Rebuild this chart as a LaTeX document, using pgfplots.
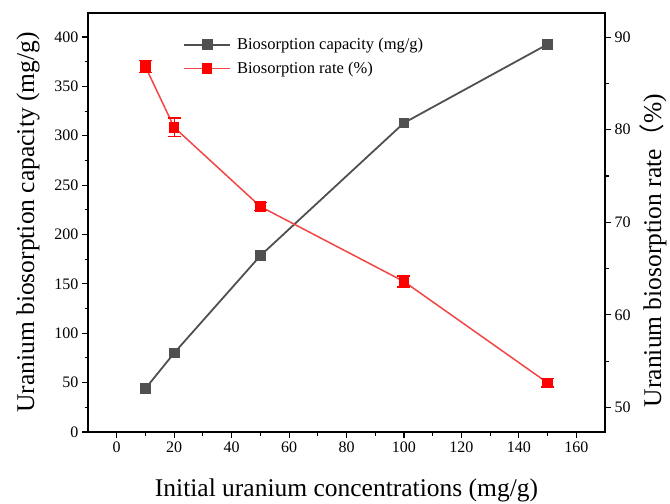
\documentclass[border=0pt]{standalone}
\usepackage{fontspec}
\setmainfont{Liberation Serif}
\newfontfamily\cjk{Noto Sans CJK SC}
\usepackage{pgfplots}
\pgfplotsset{compat=1.18}
\definecolor{capgray}{HTML}{505050}
\definecolor{ratered}{HTML}{FF0000}
\definecolor{ratelinered}{HTML}{F24545}

\pgfplotstableread{
x   y    e
10  44   0.8
20  80   3
50  178.5 1
100 313  3.5
150 392.6 3
}\capacity

\pgfplotstableread{
x   y     e
10  86.8  0.65
20  80.25 1.0
50  71.7  0.4
100 63.6  0.6
150 52.66 0.45
}\rate

\begin{document}
\begin{tikzpicture}
\pgfplotsset{
  every axis/.append style={
    scale only axis, width=517pt, height=419pt,
    xmin=-10, xmax=170,
    tick align=outside,
    major tick length=6pt, minor tick length=3.5pt,
    every tick/.style={black, line width=1.1pt},
    tick label style={font=\fontsize{16}{16}\selectfont},
    /pgf/number format/assume math mode=true,
    label style={font=\fontsize{25.5}{25.5}\selectfont},
  },
}
\begin{axis}[
  axis line style={line width=1.4pt},
  ymin=0, ymax=424.3,
  xtick={0,20,...,160}, minor x tick num=1,
  ytick={0,50,...,400}, minor y tick num=1,
  xtick pos=bottom, ytick pos=left,
  xlabel={Initial uranium concentrations (mg/g)},
  ylabel={Uranium biosorption capacity (mg/g)},
  xlabel style={yshift=-20pt},
  ylabel style={yshift=8pt},
]
\addplot[capgray, line width=1.8pt, mark=square*, mark size=4.5pt,
  error bars/.cd, y dir=both, y explicit,
  error bar style={line width=1.2pt, capgray}, error mark options={rotate=90, mark size=5pt, line width=1.2pt}]
  table[x=x, y=y, y error=e] {\capacity};
\end{axis}
\begin{axis}[
  axis x line=none,
  axis y line*=right,
  axis line style={line width=1.4pt, -},
  ymin=47.35, ymax=92.6,
  ytick={50,60,...,90}, minor y tick num=1,
  ylabel={Uranium biosorption rate{\cjk （}\%)},
  ylabel style={yshift=-2pt, xshift=-28pt},
  legend style={at={(0.184,0.945)}, anchor=north west, draw=none, fill=none,
    font=\fontsize{16.5}{16.5}\selectfont, row sep=7pt, inner sep=0pt},
  legend cell align=left,
  legend image code/.code={%
    \draw[mark repeat=2, mark phase=2, #1] plot coordinates {(0pt,0pt) (23pt,0pt) (46pt,0pt)};},
]
\addlegendimage{capgray, line width=1.8pt, mark=square*, mark size=4.5pt}
\addlegendentry{\hspace{4pt}Biosorption capacity (mg/g)}
\addplot[ratelinered, line width=1.5pt, mark=square*, mark size=4.5pt,
  mark options={ratered},
  error bars/.cd, y dir=both, y explicit,
  error bar style={line width=1.2pt, ratered}, error mark options={rotate=90, mark size=6.5pt, line width=1.2pt, ratered}]
  table[x=x, y=y, y error=e] {\rate};
\addlegendentry{\hspace{4pt}Biosorption rate (\%)}
\end{axis}
\pgfresetboundingbox
\path[use as bounding box] ([xshift=-88pt, yshift=-71pt]current axis.south west) rectangle ([xshift=65pt, yshift=13pt]current axis.north east);
\end{tikzpicture}
\end{document}
